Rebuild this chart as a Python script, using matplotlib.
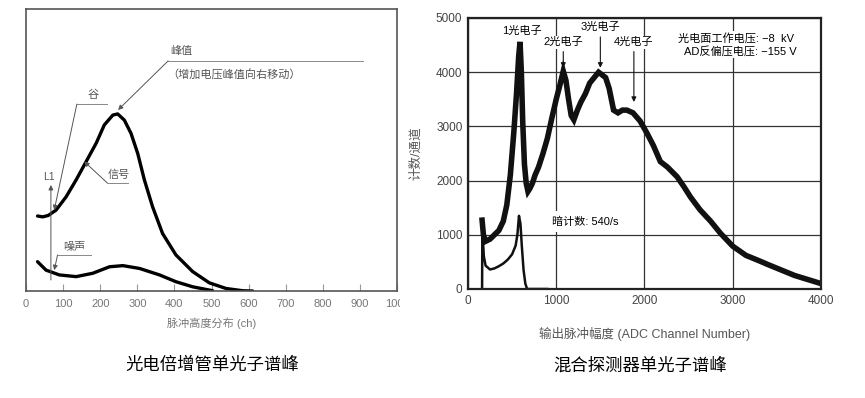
import matplotlib
matplotlib.use("Agg")
import matplotlib.pyplot as plt
from matplotlib.transforms import Bbox, TransformedBbox

plt.rcParams['font.family'] = ['Liberation Sans', 'Noto Sans CJK SC', 'DejaVu Sans']
plt.rcParams['axes.unicode_minus'] = True

# left panel: PMT single photon spectrum (arbitrary height units)
pmt_ch = [31, 45, 60, 81, 108, 135, 162, 189, 211, 234, 247, 265, 283, 301, 319,
          341, 368, 404, 449, 494, 539, 584, 611]
pmt_sig = [26.6, 26.3, 26.8, 28.7, 33.4, 39.4, 45.9, 52.4, 58.9, 62.4, 62.8, 60.6,
           55.9, 48.8, 39.4, 29.9, 20.4, 12.8, 6.9, 2.9, 0.9, 0.1, 0.0]
noise_ch = [31, 54, 90, 135, 180, 225, 261, 306, 360, 404, 449, 503]
noise_val = [10.4, 7.4, 5.7, 5.1, 6.3, 8.6, 9.0, 8.0, 5.7, 3.3, 1.5, 0.1]
pmt_ticks = [0, 100, 200, 300, 400, 500, 600, 700, 800, 900, 1000]

# right panel: hybrid detector spectrum
hpd_ch = [160, 175, 200, 250, 300, 350, 400, 440, 480, 520, 550, 575, 590, 605, 620,
          640, 660, 680, 700, 730, 760, 800, 850, 900, 950, 1000, 1040, 1080, 1110,
          1140, 1170, 1200, 1240, 1280, 1330, 1380, 1430, 1480, 1520, 1560, 1600,
          1650, 1700, 1750, 1800, 1870, 1950, 2030, 2100, 2180, 2260, 2370, 2450,
          2520, 2630, 2750, 2860, 3000, 3150, 3300, 3400, 3550, 3700, 3800, 3900, 4000]
hpd_counts = [1270, 1000, 880, 920, 1000, 1080, 1250, 1550, 2100, 2900, 3600, 4300,
              4560, 4000, 3100, 2300, 1950, 1800, 1850, 1950, 2100, 2250, 2500, 2780,
              3150, 3500, 3750, 4020, 3850, 3500, 3200, 3120, 3300, 3450, 3600, 3800,
              3900, 4000, 3950, 3900, 3700, 3300, 3250, 3300, 3300, 3250, 3100, 2870,
              2650, 2350, 2250, 2070, 1880, 1700, 1460, 1250, 1030, 790, 620, 520, 450,
              350, 250, 200, 150, 100]
dark_ch = [160, 163, 180, 200, 250, 300, 350, 400, 450, 500, 540, 560, 578, 595, 610,
           630, 650, 670, 900]
dark_counts = [0, 1100, 600, 430, 360, 380, 420, 470, 540, 640, 800, 1000, 1350, 1200,
               800, 350, 100, 0, 0]
hpd_xticks = [0, 1000, 2000, 3000, 4000]
hpd_yticks = [0, 1000, 2000, 3000, 4000, 5000]

fig = plt.figure(figsize=(8.65, 3.98), dpi=100)

# ---------------- left ----------------
ax1 = fig.add_axes([0.0301, 0.2688, 0.4289, 0.7085])
ax1.plot(pmt_ch, pmt_sig, color='black', lw=2.4, solid_capstyle='round')
ax1.plot(noise_ch, noise_val, color='black', lw=2.4, solid_capstyle='round')
ax1.set_xlim(0, 1000)
ax1.set_ylim(0, 100)
ax1.set_yticks([])
ax1.set_xticks(pmt_ticks)
ax1.tick_params(axis='x', direction='in', length=5, color='#999', labelcolor='#777',
                labelsize=8, pad=6)
for s in ax1.spines.values():
    s.set_color('#555')
    s.set_linewidth(1.2)
clip = TransformedBbox(Bbox([[0, 0], [400 / 865, 1]]), fig.transFigure)
for lab in ax1.get_xticklabels():
    lab.set_clip_on(True)
    lab.set_clip_box(clip)
ax1.set_xlabel('脉冲高度分布 (ch)', fontsize=8, color='#777', labelpad=6)

gray = '#888'
ap = dict(arrowstyle='-|>', color='#555', lw=0.7, mutation_scale=7, shrinkA=0, shrinkB=0)
# 峰值
ax1.plot([383, 908], [81.6, 81.6], color=gray, lw=0.7)
ax1.text(388, 84.0, '峰值', fontsize=8, color='#555')
ax1.text(380, 76.5, '（增加电压峰值向右移动）', fontsize=8, color='#555', va='center')
ax1.annotate('', xy=(248, 64.2), xytext=(383, 81.6), arrowprops=ap)
# 谷
ax1.plot([137, 218], [66.3, 66.3], color=gray, lw=0.7)
ax1.text(165, 68.3, '谷', fontsize=8, color='#555')
ax1.annotate('', xy=(76, 28.7), xytext=(137, 66.3), arrowprops=ap)
# 信号
ax1.plot([220, 275], [38.2, 38.2], color=gray, lw=0.7)
ax1.text(221, 40.0, '信号', fontsize=8, color='#555')
ax1.annotate('', xy=(157, 45.9), xytext=(220, 38.2), arrowprops=ap)
# L1
ax1.text(45, 39.5, 'L1', fontsize=7.5, color='#555')
ax1.annotate('', xy=(67, 37.6), xytext=(67, 3.9), arrowprops=ap)
# 噪声
ax1.plot([85, 175], [12.8, 12.8], color=gray, lw=0.7)
ax1.text(100, 14.6, '噪声', fontsize=8, color='#555')
ax1.annotate('', xy=(76, 7.4), xytext=(85, 12.8), arrowprops=ap)

fig.text(212 / 865, 1 - 365 / 398, '光电倍增管单光子谱峰', fontsize=12.5,
         ha='center', va='center', color='black')

# ---------------- right ----------------
ax2 = fig.add_axes([0.541, 0.2739, 0.4081, 0.6809])
ax2.set_axisbelow(True)
ax2.grid(True, color='#333', lw=0.9)
ax2.plot(hpd_ch, hpd_counts, color='#111', lw=4.0, solid_joinstyle='miter')
ax2.plot(dark_ch, dark_counts, color='#111', lw=1.8)
ax2.set_xlim(0, 4000)
ax2.set_ylim(0, 5000)
ax2.set_xticks(hpd_xticks)
ax2.set_yticks(hpd_yticks)
ax2.tick_params(length=0, labelsize=8.5, labelcolor='#444', pad=4)
for s in ax2.spines.values():
    s.set_color('#222')
    s.set_linewidth(1.6)
ax2.set_xlabel('输出脉冲幅度 (ADC Channel Number)', fontsize=9, color='#555', labelpad=15)
ax2.set_ylabel('计数/通道', fontsize=9, color='#555', labelpad=10)

tb = dict(fc='white', ec='none', pad=1.0)
apk = dict(arrowstyle='-|>', color='#111', lw=0.8, mutation_scale=7, shrinkA=0, shrinkB=0)
ax2.text(610, 4770, '1光电子', fontsize=8, ha='center', va='center', bbox=tb)
ax2.text(1080, 4550, '2光电子', fontsize=8, ha='center', va='center', bbox=tb)
ax2.annotate('', xy=(1080, 4080), xytext=(1080, 4380), arrowprops=apk)
ax2.text(1500, 4830, '3光电子', fontsize=8, ha='center', va='center', bbox=tb)
ax2.annotate('', xy=(1500, 4080), xytext=(1500, 4650), arrowprops=apk)
ax2.text(1880, 4550, '4光电子', fontsize=8, ha='center', va='center', bbox=tb)
ax2.annotate('', xy=(1880, 3450), xytext=(1880, 4380), arrowprops=apk)
ax2.text(3700, 4630, '光电面工作电压: −8  kV', fontsize=8, ha='right', va='center', bbox=tb)
ax2.text(3720, 4390, 'AD反偏压电压: −155 V', fontsize=8, ha='right', va='center', bbox=tb)
ax2.text(950, 1240, '暗计数: 540/s', fontsize=8, ha='left', va='center',
         bbox=dict(fc='white', ec='none', pad=4))

fig.text(640 / 865, 1 - 365 / 398, '混合探测器单光子谱峰', fontsize=12.5,
         ha='center', va='center', color='black')

fig.savefig('out.png', dpi=100)
